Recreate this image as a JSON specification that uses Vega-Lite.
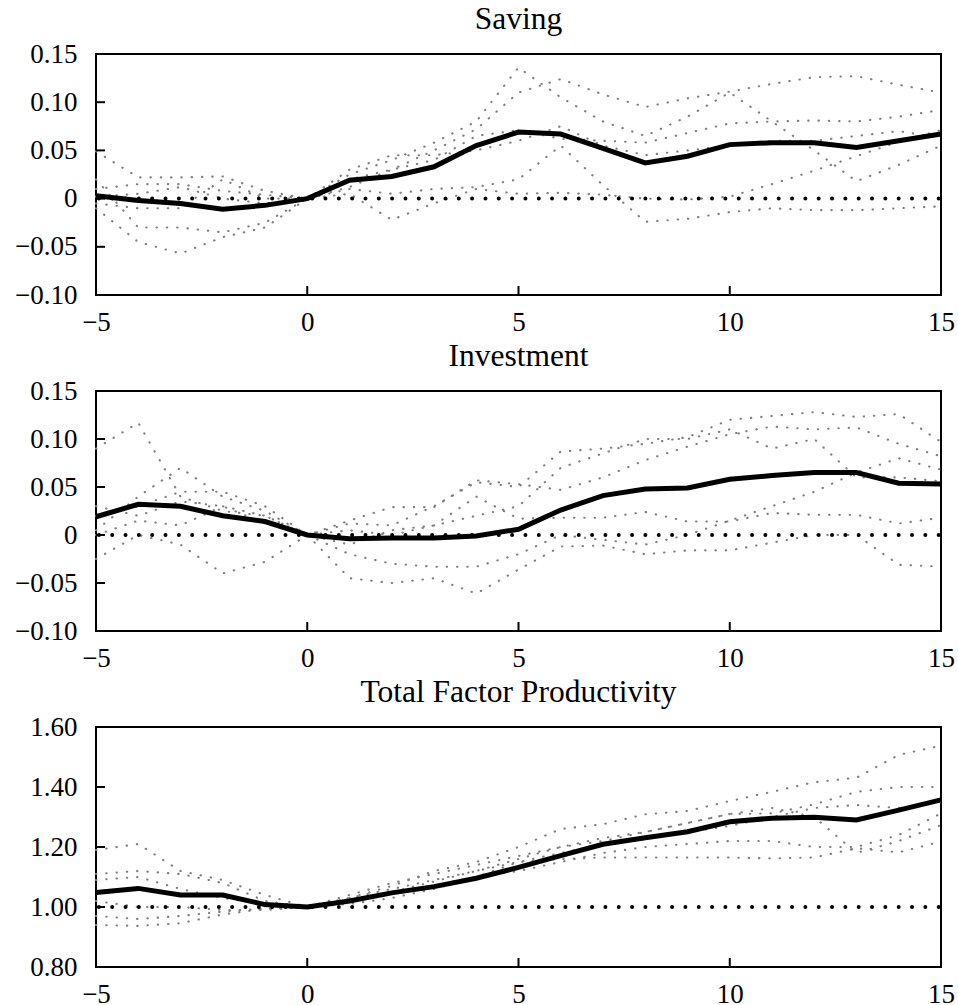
{
  "$schema": "https://vega.github.io/schema/vega-lite/v6.json",
  "background": "white",
  "padding": {"left": 13, "top": 2, "right": 14, "bottom": 0},
  "bounds": "flush",
  "spacing": 96,
  "config": {
    "font": "Liberation Serif",
    "view": {"stroke": "black", "strokeWidth": 2},
    "axis": {"domain": false, "grid": false, "ticks": false,
             "labelFont": "Liberation Serif", "labelFontSize": 27, "labelColor": "black", "labelFlush": false, "labelOverlap": false},
    "axisX": {"labelPadding": 14},
    "axisY": {"labelPadding": 19},
    "title": {"font": "Liberation Serif", "fontSize": 31.5, "fontWeight": "normal", "color": "black", "offset": 5, "baseline": "alphabetic", "anchor": "middle", "frame": "group"}
  },
  "datasets": {
    "ref": [{"ref0": 0, "ref1": 1}],
    "xt1": [{"xt": 0, "yb": -0.1}, {"xt": 5, "yb": -0.1}, {"xt": 10, "yb": -0.1}],
    "yt1": [{"yt": -0.05, "xl": -5}, {"yt": 0, "xl": -5}, {"yt": 0.05, "xl": -5}, {"yt": 0.1, "xl": -5}],
    "xt3": [{"xt": 0, "yb": 0.8}, {"xt": 5, "yb": 0.8}, {"xt": 10, "yb": 0.8}],
    "yt3": [{"yt": 1.0, "xl": -5}, {"yt": 1.2, "xl": -5}, {"yt": 1.4, "xl": -5}],
    "saving": [
      {"t": -5, "A": 0.010, "B": 0.049, "C": 0.002, "D": -0.005, "E": 0.020, "F": -0.010, "mean": 0.003},
      {"t": -4, "A": 0.015, "B": 0.022, "C": 0.005, "D": -0.010, "E": -0.030, "F": -0.045, "mean": -0.002},
      {"t": -3, "A": 0.015, "B": 0.022, "C": 0.012, "D": -0.010, "E": -0.030, "F": -0.057, "mean": -0.005},
      {"t": -2, "A": 0.008, "B": 0.023, "C": 0.000, "D": 0.020, "E": -0.035, "F": -0.040, "mean": -0.011},
      {"t": -1, "A": 0.004, "B": 0.008, "C": -0.005, "D": 0.000, "E": -0.025, "F": -0.030, "mean": -0.007},
      {"t": 0, "A": 0.0, "B": 0.0, "C": 0.0, "D": 0.0, "E": 0.0, "F": 0.0, "mean": 0.0},
      {"t": 1, "A": 0.012, "B": 0.025, "C": 0.020, "D": 0.010, "E": 0.005, "F": 0.030, "mean": 0.019},
      {"t": 2, "A": 0.030, "B": 0.040, "C": 0.030, "D": 0.005, "E": -0.022, "F": 0.045, "mean": 0.023},
      {"t": 3, "A": 0.050, "B": 0.058, "C": 0.040, "D": 0.010, "E": -0.005, "F": 0.045, "mean": 0.033},
      {"t": 4, "A": 0.072, "B": 0.080, "C": 0.065, "D": 0.012, "E": 0.010, "F": 0.050, "mean": 0.055},
      {"t": 5, "A": 0.110, "B": 0.136, "C": 0.071, "D": 0.020, "E": 0.005, "F": 0.060, "mean": 0.069},
      {"t": 6, "A": 0.124, "B": 0.105, "C": 0.062, "D": 0.055, "E": 0.006, "F": 0.075, "mean": 0.067},
      {"t": 7, "A": 0.108, "B": 0.080, "C": 0.060, "D": 0.014, "E": 0.004, "F": 0.055, "mean": 0.052},
      {"t": 8, "A": 0.095, "B": 0.065, "C": 0.058, "D": -0.024, "E": 0.000, "F": 0.045, "mean": 0.037},
      {"t": 9, "A": 0.104, "B": 0.085, "C": 0.068, "D": -0.021, "E": -0.001, "F": 0.050, "mean": 0.044},
      {"t": 10, "A": 0.111, "B": 0.110, "C": 0.078, "D": -0.014, "E": 0.002, "F": 0.055, "mean": 0.056},
      {"t": 11, "A": 0.119, "B": 0.080, "C": 0.080, "D": -0.010, "E": 0.015, "F": 0.060, "mean": 0.058},
      {"t": 12, "A": 0.126, "B": 0.050, "C": 0.081, "D": -0.012, "E": 0.029, "F": 0.060, "mean": 0.058},
      {"t": 13, "A": 0.127, "B": 0.018, "C": 0.080, "D": -0.012, "E": 0.044, "F": 0.065, "mean": 0.053},
      {"t": 14, "A": 0.118, "B": 0.035, "C": 0.085, "D": -0.010, "E": 0.059, "F": 0.070, "mean": 0.060},
      {"t": 15, "A": 0.110, "B": 0.055, "C": 0.092, "D": -0.008, "E": 0.071, "F": 0.063, "mean": 0.067}
    ],
    "investment": [
      {"t": -5, "A": 0.090, "B": 0.005, "C": 0.030, "D": -0.025, "E": 0.020, "F": 0.000, "mean": 0.019},
      {"t": -4, "A": 0.117, "B": 0.040, "C": 0.020, "D": 0.000, "E": 0.030, "F": 0.015, "mean": 0.032},
      {"t": -3, "A": 0.040, "B": 0.070, "C": 0.035, "D": -0.010, "E": 0.045, "F": 0.010, "mean": 0.030},
      {"t": -2, "A": 0.025, "B": 0.040, "C": 0.030, "D": -0.040, "E": 0.045, "F": 0.030, "mean": 0.020},
      {"t": -1, "A": 0.020, "B": 0.025, "C": 0.012, "D": -0.028, "E": 0.030, "F": 0.020, "mean": 0.014},
      {"t": 0, "A": 0.0, "B": 0.0, "C": 0.0, "D": 0.0, "E": 0.0, "F": 0.0, "mean": 0.0},
      {"t": 1, "A": 0.012, "B": 0.015, "C": -0.010, "D": -0.045, "E": -0.020, "F": 0.005, "mean": -0.004},
      {"t": 2, "A": 0.010, "B": 0.029, "C": 0.005, "D": -0.050, "E": -0.030, "F": 0.000, "mean": -0.003},
      {"t": 3, "A": 0.030, "B": 0.029, "C": 0.010, "D": -0.045, "E": -0.033, "F": 0.010, "mean": -0.003},
      {"t": 4, "A": 0.055, "B": 0.057, "C": 0.040, "D": -0.061, "E": -0.033, "F": 0.020, "mean": -0.001},
      {"t": 5, "A": 0.050, "B": 0.053, "C": 0.017, "D": -0.036, "E": -0.020, "F": 0.030, "mean": 0.006},
      {"t": 6, "A": 0.087, "B": 0.047, "C": 0.018, "D": -0.012, "E": 0.000, "F": 0.070, "mean": 0.026},
      {"t": 7, "A": 0.090, "B": 0.060, "C": 0.018, "D": -0.011, "E": -0.005, "F": 0.085, "mean": 0.041},
      {"t": 8, "A": 0.095, "B": 0.078, "C": 0.024, "D": -0.020, "E": -0.010, "F": 0.100, "mean": 0.048},
      {"t": 9, "A": 0.102, "B": 0.092, "C": 0.014, "D": -0.016, "E": 0.000, "F": 0.100, "mean": 0.049},
      {"t": 10, "A": 0.120, "B": 0.105, "C": 0.014, "D": -0.016, "E": 0.015, "F": 0.110, "mean": 0.058},
      {"t": 11, "A": 0.124, "B": 0.113, "C": 0.023, "D": -0.008, "E": 0.030, "F": 0.090, "mean": 0.062},
      {"t": 12, "A": 0.128, "B": 0.110, "C": 0.021, "D": 0.000, "E": 0.045, "F": 0.100, "mean": 0.065},
      {"t": 13, "A": 0.123, "B": 0.112, "C": 0.021, "D": 0.000, "E": 0.065, "F": 0.060, "mean": 0.065},
      {"t": 14, "A": 0.126, "B": 0.095, "C": 0.012, "D": -0.031, "E": 0.080, "F": 0.060, "mean": 0.054},
      {"t": 15, "A": 0.097, "B": 0.082, "C": 0.018, "D": -0.033, "E": 0.068, "F": 0.056, "mean": 0.053}
    ],
    "tfp": [
      {"t": -5, "A": 1.190, "B": 1.110, "C": 1.090, "D": 1.020, "E": 0.940, "F": 0.970, "mean": 1.048},
      {"t": -4, "A": 1.210, "B": 1.120, "C": 1.100, "D": 1.000, "E": 0.937, "F": 0.960, "mean": 1.062},
      {"t": -3, "A": 1.120, "B": 1.110, "C": 1.060, "D": 1.000, "E": 0.946, "F": 0.970, "mean": 1.040},
      {"t": -2, "A": 1.090, "B": 1.080, "C": 1.030, "D": 0.990, "E": 0.975, "F": 0.985, "mean": 1.040},
      {"t": -1, "A": 1.040, "B": 1.020, "C": 1.010, "D": 0.990, "E": 0.995, "F": 0.995, "mean": 1.008},
      {"t": 0, "A": 1.0, "B": 1.0, "C": 1.0, "D": 1.0, "E": 1.0, "F": 1.0, "mean": 1.0},
      {"t": 1, "A": 1.030, "B": 1.030, "C": 1.040, "D": 1.010, "E": 1.020, "F": 1.025, "mean": 1.020},
      {"t": 2, "A": 1.070, "B": 1.060, "C": 1.080, "D": 1.030, "E": 1.050, "F": 1.050, "mean": 1.047},
      {"t": 3, "A": 1.120, "B": 1.090, "C": 1.110, "D": 1.060, "E": 1.070, "F": 1.085, "mean": 1.068},
      {"t": 4, "A": 1.150, "B": 1.120, "C": 1.140, "D": 1.100, "E": 1.100, "F": 1.120, "mean": 1.096},
      {"t": 5, "A": 1.200, "B": 1.160, "C": 1.170, "D": 1.150, "E": 1.120, "F": 1.150, "mean": 1.132},
      {"t": 6, "A": 1.260, "B": 1.200, "C": 1.200, "D": 1.160, "E": 1.150, "F": 1.180, "mean": 1.171},
      {"t": 7, "A": 1.276, "B": 1.230, "C": 1.220, "D": 1.165, "E": 1.180, "F": 1.210, "mean": 1.209},
      {"t": 8, "A": 1.309, "B": 1.250, "C": 1.250, "D": 1.165, "E": 1.200, "F": 1.230, "mean": 1.231},
      {"t": 9, "A": 1.320, "B": 1.280, "C": 1.280, "D": 1.165, "E": 1.210, "F": 1.250, "mean": 1.251},
      {"t": 10, "A": 1.353, "B": 1.310, "C": 1.310, "D": 1.165, "E": 1.220, "F": 1.270, "mean": 1.284},
      {"t": 11, "A": 1.384, "B": 1.312, "C": 1.330, "D": 1.162, "E": 1.220, "F": 1.300, "mean": 1.296},
      {"t": 12, "A": 1.416, "B": 1.342, "C": 1.300, "D": 1.165, "E": 1.200, "F": 1.330, "mean": 1.299},
      {"t": 13, "A": 1.431, "B": 1.384, "C": 1.180, "D": 1.196, "E": 1.200, "F": 1.340, "mean": 1.290},
      {"t": 14, "A": 1.507, "B": 1.400, "C": 1.220, "D": 1.182, "E": 1.240, "F": 1.330, "mean": 1.323},
      {"t": 15, "A": 1.538, "B": 1.400, "C": 1.273, "D": 1.218, "E": 1.312, "F": 1.350, "mean": 1.357}
    ]
  },
  "vconcat": [
    {
      "width": 845, "height": 241,
      "title": {"text": "Saving"},
      "data": {"name": "saving"},
      "layer": [
        {
          "transform": [{"fold": ["A", "B", "C", "D", "E", "F"], "as": ["series", "v"]}],
          "mark": {"type": "line", "color": "#7f7f7f", "strokeWidth": 2.1, "strokeDash": [0.4, 9.9], "strokeCap": "round"},
          "encoding": {
            "x": {"field": "t", "type": "quantitative", "scale": {"domain": [-5, 15], "nice": false, "zero": false},
                  "axis": {"title": null, "values": [-5, 0, 5, 10, 15], "format": "d"}},
            "y": {"field": "v", "type": "quantitative", "scale": {"domain": [-0.1, 0.15], "nice": false, "zero": false},
                  "axis": {"title": null, "values": [-0.1, -0.05, 0, 0.05, 0.1, 0.15], "labelExpr": "datum.value == 0 ? '0' : format(datum.value, '.2f')"}},
            "detail": {"field": "series"}
          }
        },
        {
          "data": {"name": "xt1"},
          "mark": {"type": "tick", "orient": "vertical", "size": 9, "thickness": 2, "color": "black", "opacity": 1, "yOffset": -4.5},
          "encoding": {"x": {"field": "xt", "type": "quantitative"}, "y": {"field": "yb", "type": "quantitative"}}
        },
        {
          "data": {"name": "yt1"},
          "mark": {"type": "tick", "orient": "horizontal", "size": 9, "thickness": 2, "color": "black", "opacity": 1, "xOffset": 4.5},
          "encoding": {"x": {"field": "xl", "type": "quantitative"}, "y": {"field": "yt", "type": "quantitative"}}
        },
        {
          "data": {"name": "ref"},
          "mark": {"type": "rule", "color": "black", "strokeWidth": 4, "strokeDash": [0, 13.33], "strokeCap": "round", "strokeDashOffset": 11},
          "encoding": {"y": {"field": "ref0", "type": "quantitative"}}
        },
        {
          "mark": {"type": "line", "color": "black", "strokeWidth": 5},
          "encoding": {
            "x": {"field": "t", "type": "quantitative"},
            "y": {"field": "mean", "type": "quantitative"}
          }
        }
      ]
    },
    {
      "width": 845, "height": 240,
      "title": {"text": "Investment"},
      "data": {"name": "investment"},
      "layer": [
        {
          "transform": [{"fold": ["A", "B", "C", "D", "E", "F"], "as": ["series", "v"]}],
          "mark": {"type": "line", "color": "#7f7f7f", "strokeWidth": 2.1, "strokeDash": [0.4, 9.9], "strokeCap": "round"},
          "encoding": {
            "x": {"field": "t", "type": "quantitative", "scale": {"domain": [-5, 15], "nice": false, "zero": false},
                  "axis": {"title": null, "values": [-5, 0, 5, 10, 15], "format": "d"}},
            "y": {"field": "v", "type": "quantitative", "scale": {"domain": [-0.1, 0.15], "nice": false, "zero": false},
                  "axis": {"title": null, "values": [-0.1, -0.05, 0, 0.05, 0.1, 0.15], "labelExpr": "datum.value == 0 ? '0' : format(datum.value, '.2f')"}},
            "detail": {"field": "series"}
          }
        },
        {
          "data": {"name": "xt1"},
          "mark": {"type": "tick", "orient": "vertical", "size": 9, "thickness": 2, "color": "black", "opacity": 1, "yOffset": -4.5},
          "encoding": {"x": {"field": "xt", "type": "quantitative"}, "y": {"field": "yb", "type": "quantitative"}}
        },
        {
          "data": {"name": "yt1"},
          "mark": {"type": "tick", "orient": "horizontal", "size": 9, "thickness": 2, "color": "black", "opacity": 1, "xOffset": 4.5},
          "encoding": {"x": {"field": "xl", "type": "quantitative"}, "y": {"field": "yt", "type": "quantitative"}}
        },
        {
          "data": {"name": "ref"},
          "mark": {"type": "rule", "color": "black", "strokeWidth": 4, "strokeDash": [0, 13.33], "strokeCap": "round", "strokeDashOffset": 11},
          "encoding": {"y": {"field": "ref0", "type": "quantitative"}}
        },
        {
          "mark": {"type": "line", "color": "black", "strokeWidth": 5},
          "encoding": {
            "x": {"field": "t", "type": "quantitative"},
            "y": {"field": "mean", "type": "quantitative"}
          }
        }
      ]
    },
    {
      "width": 845, "height": 240,
      "title": {"text": "Total Factor Productivity"},
      "data": {"name": "tfp"},
      "layer": [
        {
          "transform": [{"fold": ["A", "B", "C", "D", "E", "F"], "as": ["series", "v"]}],
          "mark": {"type": "line", "color": "#7f7f7f", "strokeWidth": 2.1, "strokeDash": [0.4, 9.9], "strokeCap": "round"},
          "encoding": {
            "x": {"field": "t", "type": "quantitative", "scale": {"domain": [-5, 15], "nice": false, "zero": false},
                  "axis": {"title": null, "values": [-5, 0, 5, 10, 15], "format": "d"}},
            "y": {"field": "v", "type": "quantitative", "scale": {"domain": [0.8, 1.6], "nice": false, "zero": false},
                  "axis": {"title": null, "values": [0.8, 1.0, 1.2, 1.4, 1.6], "format": ".2f"}},
            "detail": {"field": "series"}
          }
        },
        {
          "data": {"name": "xt3"},
          "mark": {"type": "tick", "orient": "vertical", "size": 9, "thickness": 2, "color": "black", "opacity": 1, "yOffset": -4.5},
          "encoding": {"x": {"field": "xt", "type": "quantitative"}, "y": {"field": "yb", "type": "quantitative"}}
        },
        {
          "data": {"name": "yt3"},
          "mark": {"type": "tick", "orient": "horizontal", "size": 9, "thickness": 2, "color": "black", "opacity": 1, "xOffset": 4.5},
          "encoding": {"x": {"field": "xl", "type": "quantitative"}, "y": {"field": "yt", "type": "quantitative"}}
        },
        {
          "data": {"name": "ref"},
          "mark": {"type": "rule", "color": "black", "strokeWidth": 4, "strokeDash": [0, 13.33], "strokeCap": "round", "strokeDashOffset": 11},
          "encoding": {"y": {"field": "ref1", "type": "quantitative"}}
        },
        {
          "mark": {"type": "line", "color": "black", "strokeWidth": 5},
          "encoding": {
            "x": {"field": "t", "type": "quantitative"},
            "y": {"field": "mean", "type": "quantitative"}
          }
        }
      ]
    }
  ]
}
